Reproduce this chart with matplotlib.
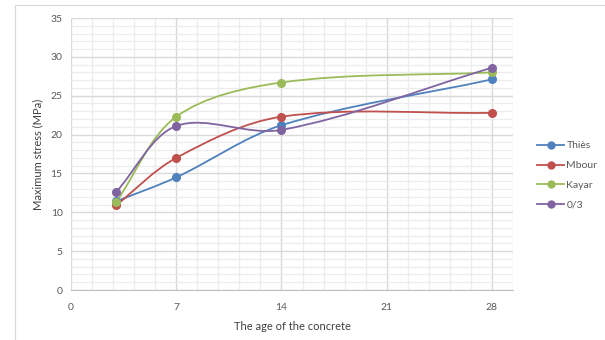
import numpy as np
import matplotlib.pyplot as plt
from matplotlib.path import Path
from matplotlib.patches import PathPatch, Rectangle
from matplotlib.lines import Line2D

plt.rcParams['font.family'] = ['Lato', 'DejaVu Sans']

# curing age (days) and maximum stress (MPa) for each sand
ages = [3, 7, 14, 28]
thies = [11.4, 14.5, 21.2, 27.1]
mbour = [10.9, 17.0, 22.3, 22.8]
kayar = [11.3, 22.3, 26.7, 28.0]
zero3 = [12.6, 21.1, 20.6, 28.6]

names = ['Thiès', 'Mbour', 'Kayar', '0/3']
series = [thies, mbour, kayar, zero3]
colors = ['#4F81BD', '#C0504D', '#9BBB59', '#8064A2']

x_ticks = [0, 7, 14, 21, 28]
y_ticks = [0, 5, 10, 15, 20, 25, 30, 35]


def smooth_path(ax, xs, ys):
    # bezier segments built in screen space, tangents weighted by chord length
    tr = ax.transData
    pts = tr.transform(np.column_stack([xs, ys]).astype(float))
    n = len(pts)
    verts = [pts[0]]
    codes = [Path.MOVETO]
    for i in range(n - 1):
        p0 = pts[i - 1] if i > 0 else pts[i]
        p1 = pts[i]
        p2 = pts[i + 1]
        p3 = pts[i + 2] if i + 2 < n else pts[i + 1]
        d01 = np.hypot(*(p1 - p0))
        d12 = np.hypot(*(p2 - p1))
        d23 = np.hypot(*(p3 - p2))
        c1 = p1 + (p2 - p0) * d12 / (d01 + d12) / 3.0
        c2 = p2 - (p3 - p1) * d12 / (d12 + d23) / 3.0
        verts += [c1, c2, p2]
        codes += [Path.CURVE4] * 3
    verts = tr.inverted().transform(np.array(verts))
    return Path(verts, codes)


fig = plt.figure(figsize=(6.05, 3.4), dpi=100)
fig.patches.append(Rectangle((15 / 605, -0.1), 1.0, 1 - 5 / 340 + 0.1,
                             transform=fig.transFigure, fill=False,
                             edgecolor='#d9d9d9', linewidth=0.8))

ax = fig.add_axes([71 / 605, 1 - 290 / 340, (513 - 71) / 605, (290 - 18) / 340])
ax.set_xlim(0, 29)
ax.set_ylim(0, 35)

ax.set_xticks(x_ticks)
ax.set_yticks(y_ticks)
ax.set_xticks(np.arange(0, 29.5, 1.4), minor=True)
ax.set_yticks(np.arange(0, 35.1, 1), minor=True)
ax.grid(which='major', color='#d9d9d9', linewidth=1.0)
ax.grid(which='minor', color='#ececec', linewidth=0.9)
ax.set_axisbelow(True)
ax.tick_params(which='both', length=0, labelsize=7.5, colors='#595959')
ax.tick_params(axis='x', pad=9)
ax.tick_params(axis='y', pad=6)
for s in ['top', 'right', 'left']:
    ax.spines[s].set_visible(False)
ax.spines['bottom'].set_color('#bfbfbf')

handles = []
for name, vals, c in zip(names, series, colors):
    ax.add_patch(PathPatch(smooth_path(ax, ages, vals), fill=False, edgecolor=c,
                           linewidth=1.3, zorder=3))
    ax.plot(ages, vals, linestyle='none', marker='o', markersize=5.5,
            color=c, zorder=4)
    handles.append(Line2D([], [], color=c, linewidth=1.3, marker='o',
                          markersize=5, label=name))

ax.set_xlabel('The age of the concrete', fontsize=8, color='#404040', labelpad=7)
ax.set_ylabel('Maximum stress (MPa)', fontsize=8, color='#404040', labelpad=5)

fig.legend(handles=handles, loc='upper left', bbox_to_anchor=(532 / 605, 1 - 136 / 340),
           frameon=False, fontsize=7.5, labelcolor='#595959', handlelength=2.6,
           handletextpad=0.2, labelspacing=1.0, borderpad=0)

fig.savefig('out.png', dpi=100)
